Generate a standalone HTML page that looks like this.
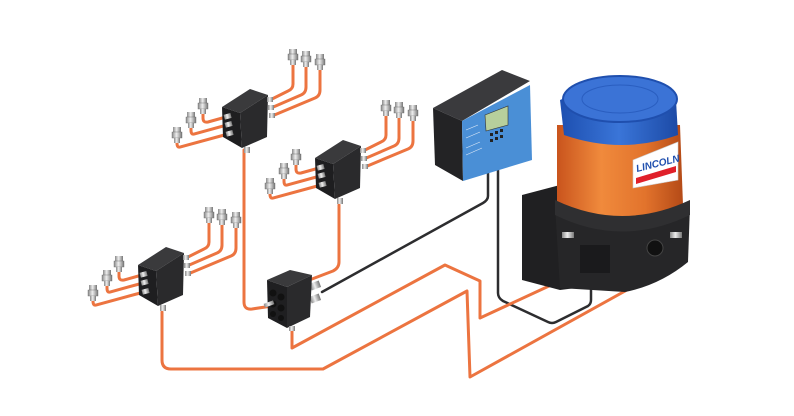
<!DOCTYPE html>
<html><head><meta charset="utf-8"><style>
html,body{margin:0;padding:0;background:#fff;width:794px;height:416px;overflow:hidden}
svg{display:block}
</style></head><body>
<svg width="794" height="416" viewBox="0 0 794 416" xmlns="http://www.w3.org/2000/svg">
<defs>
<linearGradient id="sil" x1="0" x2="1"><stop offset="0" stop-color="#8a8a8a"/><stop offset=".45" stop-color="#eee"/><stop offset="1" stop-color="#777"/></linearGradient>
<linearGradient id="orn" x1="0" x2="1"><stop offset="0" stop-color="#c9541d"/><stop offset=".35" stop-color="#f08a3c"/><stop offset=".7" stop-color="#e2732c"/><stop offset="1" stop-color="#b44a17"/></linearGradient>
<linearGradient id="blu" x1="0" x2="1"><stop offset="0" stop-color="#1d4fb0"/><stop offset=".5" stop-color="#3a75d8"/><stop offset="1" stop-color="#1c4aa6"/></linearGradient>
<g id="fit"><rect x="-4" y="0" width="8" height="5" fill="url(#sil)"/><rect x="-5" y="5" width="10" height="6" fill="url(#sil)" stroke="#666" stroke-width=".4"/><rect x="-3" y="11" width="6" height="5" fill="url(#sil)"/></g>
<g id="blk">
 <g fill="none" stroke="#ec7440" stroke-width="3" stroke-linecap="round">
  <path d="M4,28 L-14,33 Q-19,34 -19,29 L-19,24"/>
  <path d="M5,36 L-28,45 Q-31,46 -31,41 L-31,38"/>
  <path d="M6,45 L-42,58 Q-45,59 -45,54 L-45,52"/>
  <path d="M48,11 L66,2 Q71,0 71,-5 L71,-24"/>
  <path d="M49,19 L79,6 Q84,4 84,-2 L84,-22"/>
  <path d="M50,27 L93,9 Q98,7 98,1 L98,-19"/>
 </g>
 <use href="#fit" x="-19" y="9"/><use href="#fit" x="-31" y="23"/><use href="#fit" x="-45" y="38"/>
 <use href="#fit" x="71" y="-40"/><use href="#fit" x="84" y="-38"/><use href="#fit" x="98" y="-35"/>
 <polygon points="0,18 28,0 46,6 18,24" fill="#3a3a3c"/>
 <polygon points="0,18 18,24 20,59 1,48" fill="#1e1e20"/>
 <polygon points="18,24 46,6 45,48 20,59" fill="#2a2a2c"/>
 <rect x="2" y="25" width="7" height="5" fill="url(#sil)" transform="rotate(-15 5 27)"/>
 <rect x="3" y="33" width="7" height="5" fill="url(#sil)" transform="rotate(-15 6 35)"/>
 <rect x="4" y="42" width="7" height="5" fill="url(#sil)" transform="rotate(-15 7 44)"/>
 <rect x="45" y="8" width="6" height="5" fill="url(#sil)"/>
 <rect x="46" y="16" width="6" height="5" fill="url(#sil)"/>
 <rect x="47" y="24" width="6" height="5" fill="url(#sil)"/>
 <rect x="22" y="58" width="6" height="6" fill="url(#sil)"/>
</g>
</defs>

<!-- black cables -->
<g fill="none" stroke="#2d2d2f" stroke-width="2.5" stroke-linecap="round">
 <path d="M488,170 L488,196 Q488,200 483,203 L322,292"/>
 <path d="M498,163 L498,293 Q498,298 503,301 L548,322 Q552,324 556,322 L588,306 Q591,304 591,300 L591,280"/>
</g>
<!-- orange tubes -->
<g fill="none" stroke="#ec7440" stroke-width="3" stroke-linecap="round" stroke-linejoin="round">
 <path d="M244,150 L244,302 Q244,310 252,309 L272,306"/>
 <path d="M339,205 L339,262 Q339,268 333,271 L312,279"/>
 <path d="M162,312 L162,360 Q162,369 171,369 L323,369 L467,291 L470,377 L672,265 Q676,262 676,255 L676,245"/>
 <path d="M292,328 L292,348 L445,265 L480,281 L480,318 L562,280 Q568,277 568,270 L568,250"/>
</g>

<!-- dividers -->
<use href="#blk" x="222" y="89"/>
<use href="#blk" x="315" y="140"/>
<use href="#blk" x="138" y="247"/>

<!-- block 4 -->
<g>
 <rect x="310" y="282" width="10" height="7" fill="url(#sil)" transform="rotate(-20 315 285)"/>
 <rect x="310" y="295" width="10" height="7" fill="url(#sil)" transform="rotate(-20 315 298)"/>
 <polygon points="267,280 290,270 312,275 287,287" fill="#3a3a3c"/>
 <polygon points="267,280 287,287 287,328 268,318" fill="#1f1f21"/>
 <polygon points="287,287 312,275 310,317 287,328" fill="#2a2a2c"/>
 <circle cx="273" cy="293" r="3.5" fill="#111"/><circle cx="281" cy="297" r="3.5" fill="#111"/>
 <circle cx="273" cy="304" r="3.5" fill="#111"/><circle cx="281" cy="308" r="3.5" fill="#111"/>
 <circle cx="273" cy="314" r="3" fill="#111"/><circle cx="281" cy="318" r="3" fill="#111"/>
 <rect x="264" y="302" width="10" height="4" fill="url(#sil)" transform="rotate(-20 269 304)"/>
 <rect x="289" y="326" width="6" height="5" fill="url(#sil)"/>
</g>

<!-- controller -->
<g>
 <polygon points="433,108 502,70 530,81 462,121" fill="#3a3a3d"/>
 <polygon points="433,108 462,121 463,181 435,165" fill="#232325"/>
 <polygon points="462,121 530,85 532,160 463,181" fill="#4a8fd6"/>
 <polygon points="485,115 508,106 508,125 486,131" fill="#b7cf9c" stroke="#333" stroke-width=".6"/>
 <g fill="#222"><rect x="490" y="133" width="3" height="3"/><rect x="495" y="131" width="3" height="3"/><rect x="500" y="129" width="3" height="3"/><rect x="490" y="139" width="3" height="3"/><rect x="495" y="137" width="3" height="3"/><rect x="500" y="135" width="3" height="3"/></g>
 <g fill="none" stroke="#dfeaf7" stroke-width=".6"><path d="M466,130 L478,125 M466,138 L480,132 M466,148 L480,142 M466,155 L482,148"/></g>
</g>

<!-- pump -->
<g>
 <polygon points="522,195 560,185 600,195 600,285 560,290 522,280" fill="#202022"/>
 <path d="M555,205 L690,205 L688,262 Q660,285 625,292 L560,288 Z" fill="#262628"/>
 <rect x="580" y="245" width="30" height="28" fill="#1a1a1c"/>
 <circle cx="655" cy="248" r="8" fill="#111" stroke="#444"/>
 <path d="M557,125 L680,125 L683,205 Q622,235 557,205 Z" fill="url(#orn)"/>
 <path d="M555,200 Q622,232 690,200 L690,215 Q622,248 555,215 Z" fill="#2f2f31"/>
 <path d="M560,100 Q622,72 676,100 L678,135 Q622,155 564,135 Z" fill="url(#blu)"/>
 <ellipse cx="620" cy="99" rx="57" ry="23" fill="#3b73d6" stroke="#1f4fae" stroke-width="2"/>
 <ellipse cx="620" cy="99" rx="38" ry="14" fill="none" stroke="#2a5ec0" stroke-width="1"/>
 <polygon points="633,160 678,142 678,180 633,188" fill="#fff" stroke="#ccc" stroke-width=".6"/>
 <polygon points="636,178 676,166 676,172 636,184" fill="#e0202a"/>
 <text x="637" y="172" font-family="Liberation Sans, sans-serif" font-style="italic" font-weight="bold" font-size="10" fill="#1f4fae" transform="rotate(-14 637 172)">LINCOLN</text>
 <rect x="670" y="232" width="12" height="6" fill="url(#sil)"/>
 <rect x="562" y="232" width="12" height="6" fill="url(#sil)"/>
</g>
</svg>
</body></html>
